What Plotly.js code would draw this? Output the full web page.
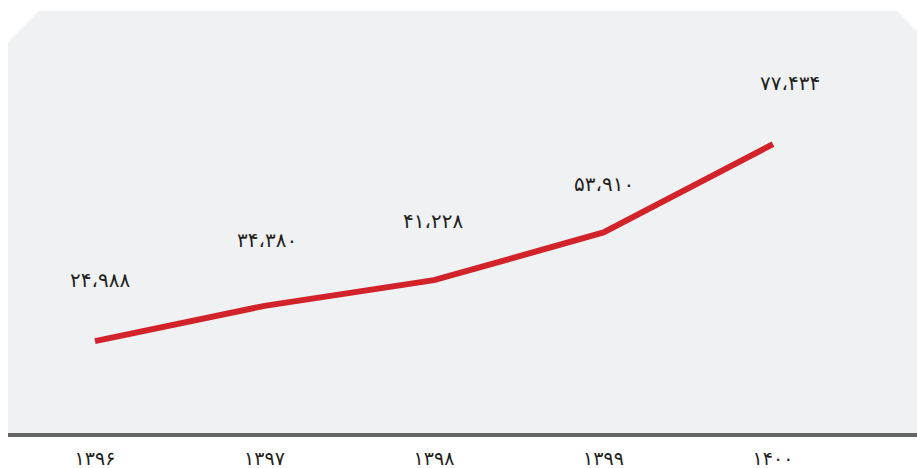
<!DOCTYPE html>
<html>
<head>
<meta charset="utf-8">
<script src="https://cdn.plot.ly/plotly-3.0.1.min.js"></script>
<style>html,body{margin:0;padding:0;background:#fff;}#chart{width:917px;height:468px;}</style>
</head>
<body>
<div id="chart"></div>
<script>
// ---- data ----
var years = ['۱۳۹۶', '۱۳۹۷', '۱۳۹۸', '۱۳۹۹', '۱۴۰۰'];
var values = [24988, 34380, 41228, 53910, 77434];

// ---- helpers ----
function toFa(n) {
  var s = String(n).replace(/\B(?=(\d{3})+(?!\d))/g, '،');
  return s.replace(/\d/g, function (d) { return '۰۱۲۳۴۵۶۷۸۹'[+d]; });
}
var W = 917, H = 468, B = 33, PH = H - B;
function px(x) { return x / W; }
function py(y) { return (PH - y) / PH; }

// label offsets (style)
var labelDx = [5, 2, -1, 0, 17];
var labelDy = [61, 66, 59, 49, 61];

var annotations = years.map(function (yr, i) {
  return {
    x: yr, y: values[i], xref: 'x', yref: 'y',
    text: toFa(values[i]), showarrow: false,
    xshift: labelDx[i], yshift: labelDy[i],
    font: { family: 'DejaVu Sans', size: 20, color: '#231f20' }
  };
});

var panelPath = 'M ' + px(8) + ' ' + py(433) +
  ' L ' + px(8) + ' ' + py(42) +
  ' L ' + px(39) + ' ' + py(11) +
  ' L ' + px(897) + ' ' + py(11) +
  ' L ' + px(917) + ' ' + py(31) +
  ' L ' + px(917) + ' ' + py(433) + ' Z';

var shapes = [
  { type: 'path', xref: 'paper', yref: 'paper', path: panelPath,
    fillcolor: '#f0f1f3', line: { width: 0 }, layer: 'below' },
  { type: 'rect', xref: 'paper', yref: 'paper',
    x0: px(8), x1: px(917), y0: py(437), y1: py(433),
    fillcolor: '#636466', line: { width: 0 }, layer: 'below' }
];

var trace = {
  x: years, y: values, type: 'scatter', mode: 'lines',
  line: { color: '#d2232a', width: 6 },
  hoverinfo: 'skip'
};

var layout = {
  width: W, height: H,
  margin: { l: 0, r: 0, t: 0, b: B, pad: 0 },
  paper_bgcolor: '#ffffff', plot_bgcolor: 'rgba(0,0,0,0)',
  showlegend: false,
  xaxis: {
    type: 'category', range: [-95 / 169.5, (W - 95) / 169.5],
    showgrid: false, zeroline: false, showline: false, ticks: '',
    tickfont: { family: 'DejaVu Sans', size: 19, color: '#231f20' },
    ticklabelstandoff: 10, fixedrange: true
  },
  yaxis: {
    range: [0, PH / 0.003756], showgrid: false, zeroline: false,
    showticklabels: false, showline: false, ticks: '', fixedrange: true
  },
  shapes: shapes,
  annotations: annotations
};

Plotly.newPlot('chart', [trace], layout, { displayModeBar: false, staticPlot: true });
</script>
</body>
</html>
